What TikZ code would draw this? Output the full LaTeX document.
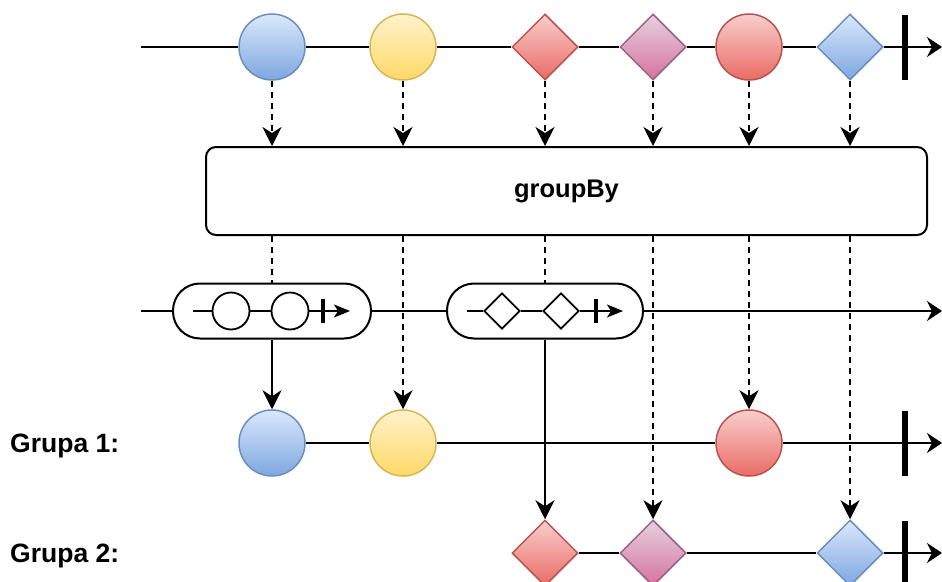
\documentclass[tikz,border=0pt]{standalone}
\usepackage{fontspec}
\setmainfont{Liberation Sans}
\usetikzlibrary{arrows.meta,shapes.geometric,calc}
\definecolor{bluetop}{HTML}{DAE8FC}
\definecolor{bluebot}{HTML}{7EA6E0}
\definecolor{bluestroke}{HTML}{6C8EBF}
\definecolor{yeltop}{HTML}{FFF2CC}
\definecolor{yelbot}{HTML}{FFD966}
\definecolor{yelstroke}{HTML}{D6B656}
\definecolor{redtop}{HTML}{F8CECC}
\definecolor{redbot}{HTML}{EA6B66}
\definecolor{redstroke}{HTML}{B85450}
\definecolor{purtop}{HTML}{E6D0DE}
\definecolor{purbot}{HTML}{D5739D}
\definecolor{purstroke}{HTML}{996185}
\tikzset{
  x=1pt,y=-1pt,
  mline/.style={line width=2pt,black},
  endarrow/.style={mline,-{Stealth[length=15pt,width=20pt,inset=5pt]}},
  dasharrow/.style={line width=2pt,dash pattern=on 6pt off 5pt,-{Stealth[length=19pt,width=19pt,inset=6pt]}},
  dashline/.style={line width=2pt,dash pattern=on 6pt off 5pt},
  solidarrow/.style={line width=2pt,-{Stealth[length=19pt,width=19pt,inset=6pt]}},
  ball/.style={circle,minimum size=66pt,inner sep=0pt,line width=1.5pt},
  gem/.style={diamond,minimum width=66pt,minimum height=66pt,inner sep=0pt,line width=1.5pt},
  cblue/.style={draw=bluestroke,top color=bluetop,bottom color=bluebot},
  cyel/.style={draw=yelstroke,top color=yeltop,bottom color=yelbot},
  cred/.style={draw=redstroke,top color=redtop,bottom color=redbot},
  cpur/.style={draw=purstroke,top color=purtop,bottom color=purbot},
  endbar/.style={fill=black,draw=none,minimum width=6pt,minimum height=65pt,inner sep=0pt},
  opbox/.style={draw,line width=2pt,rounded corners=10pt,minimum width=721pt,minimum height=88pt,font=\fontsize{25.5}{30}\selectfont\bfseries},
  pill/.style={draw,line width=2pt,rounded corners=27pt,minimum height=55pt,inner sep=0pt,fill=white},
  smallball/.style={circle,draw,line width=1.8pt,minimum size=37pt,inner sep=0pt,fill=white},
  smallgem/.style={diamond,draw,line width=1.8pt,minimum width=36pt,minimum height=36pt,inner sep=0pt,fill=white},
  smallbar/.style={fill=black,draw=none,minimum width=4pt,minimum height=24pt,inner sep=0pt},
  smallarrow/.style={line width=1.8pt,-{Stealth[length=16pt,width=13pt,inset=4pt]}},
  grlabel/.style={anchor=base west,inner sep=0pt,font=\fontsize{26.5}{30}\selectfont\bfseries},
}
\begin{document}
\begin{tikzpicture}
\useasboundingbox (0,0) rectangle (942,581);
% ---------- top stream ----------
\coordinate (t0) at (141,47);
\coordinate (tend) at (942,47);
\node[ball,cblue] (a1) at (272,47) {};
\node[ball,cyel] (a2) at (403,47) {};
\node[gem,cred] (a3) at (545,47) {};
\node[gem,cpur] (a4) at (653,47) {};
\node[ball,cred] (a5) at (749,47) {};
\node[gem,cblue] (a6) at (850,47) {};
\draw[mline] (t0) -- (a1);
\draw[mline] (a1) -- (a2);
\draw[mline] (a2) -- (a3);
\draw[mline] (a3) -- (a4);
\draw[mline] (a4) -- (a5);
\draw[mline] (a5) -- (a6);
\draw[endarrow] (a6) -- (tend);
\node[endbar] (tb) at (905,47) {};
% ---------- operator ----------
\node[opbox] (g) at (566.5,191) {groupBy};
\foreach \n in {a1,a2,a3,a4,a5,a6}{
  \draw[dasharrow] (\n) -- (\n |- g.north);
}
% ---------- middle stream ----------
\coordinate (m0) at (141,311);
\coordinate (mend) at (942,311);
\node[pill,minimum width=198pt] (p1) at (272,311) {};
\node[pill,minimum width=196pt] (p2) at (545,311) {};
\draw[mline] (m0) -- (p1);
\draw[mline] (p1) -- (p2);
\draw[endarrow] (p2) -- (mend);
% inner of pill 1
\coordinate (q1s) at (193,311);
\coordinate (q1e) at (350,311);
\node[smallball] (c1) at (231,311) {};
\node[smallball] (c2) at (290,311) {};
\draw[line width=1.8pt] (q1s) -- (c1);
\draw[line width=1.8pt] (c1) -- (c2);
\draw[smallarrow] (c2) -- (q1e);
\node[smallbar] (sb1) at (323,311) {};
% inner of pill 2
\coordinate (q2s) at (467,311);
\coordinate (q2e) at (623,311);
\node[smallgem] (d1) at (502,311) {};
\node[smallgem] (d2) at (561,311) {};
\draw[line width=1.8pt] (q2s) -- (d1);
\draw[line width=1.8pt] (d1) -- (d2);
\draw[smallarrow] (d2) -- (q2e);
\node[smallbar] (sb2) at (596,311) {};
% ---------- group 1 ----------
\node[grlabel] (l1) at (10,452) {Grupa 1:};
\coordinate (g1end) at (942,443);
\node[ball,cblue] (b1) at (272,443) {};
\node[ball,cyel] (b2) at (403,443) {};
\node[ball,cred] (b3) at (749,443) {};
\draw[mline] (b1) -- (b2);
\draw[mline] (b2) -- (b3);
\draw[endarrow] (b3) -- (g1end);
\node[endbar] (g1b) at (905,443) {};
% ---------- group 2 ----------
\node[grlabel] (l2) at (10,562) {Grupa 2:};
\coordinate (g2end) at (942,553);
\node[gem,cred] (e1) at (545,553) {};
\node[gem,cpur] (e2) at (653,553) {};
\node[gem,cblue] (e3) at (850,553) {};
\draw[mline] (e1) -- (e2);
\draw[mline] (e2) -- (e3);
\draw[endarrow] (e3) -- (g2end);
\node[endbar] (g2b) at (905,553) {};
% ---------- connectors from operator ----------
\draw[dashline] (g.south -| p1) -- (p1);
\draw[dashline] (g.south -| p2) -- (p2);
\draw[dasharrow] (g.south -| b2) -- (b2);
\draw[dasharrow] (g.south -| e2) -- (e2);
\draw[dasharrow] (g.south -| b3) -- (b3);
\draw[dasharrow] (g.south -| e3) -- (e3);
\draw[solidarrow] (p1) -- (b1);
\draw[solidarrow] (p2) -- (e1);
\end{tikzpicture}
\end{document}
